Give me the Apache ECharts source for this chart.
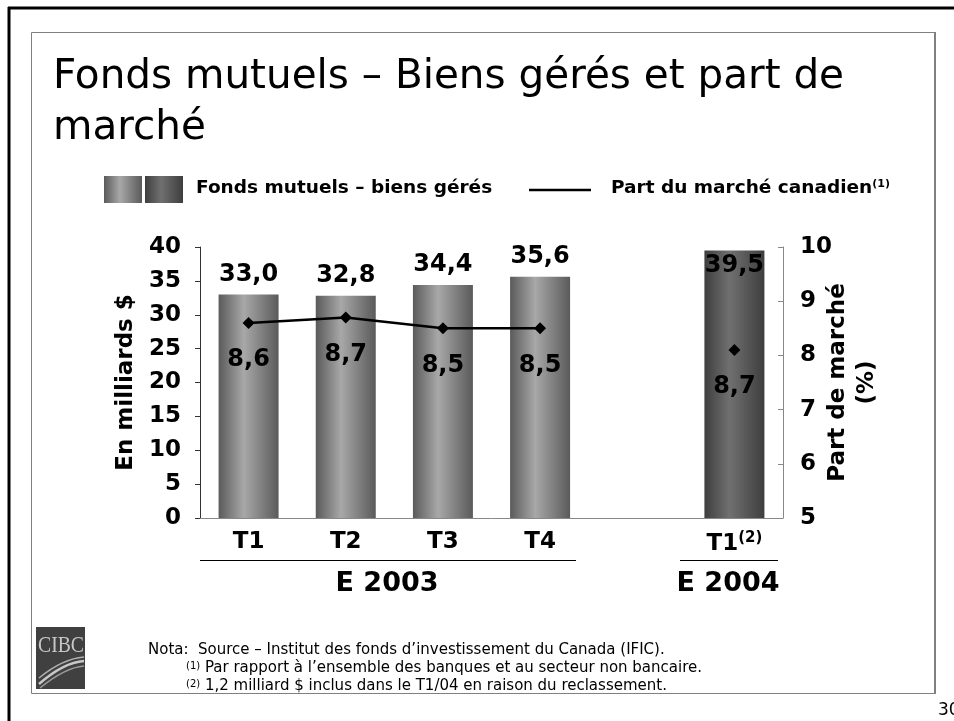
<!DOCTYPE html>
<html>
<head>
<meta charset="utf-8">
<script src="https://cdn.jsdelivr.net/npm/echarts@6/dist/echarts.min.js"></script>
<style>
  html, body { margin: 0; padding: 0; background: #fff; }
  #chart { width: 954px; height: 721px; }
</style>
</head>
<body>
<div id="chart"></div>
<script>
// données
var categories = ['T1', 'T2', 'T3', 'T4', '', 'T1'];
var assets = [33.0, 32.8, 34.4, 35.6, null, 39.5];          // milliards $
var shareMarkers = [8.6, 8.7, 8.5, 8.5, null, 8.1];          // position des losanges
var shareLabels = ['8,6', '8,7', '8,5', '8,5', '', '8,7'];  // étiquettes affichées
var years = ['E 2003', 'E 2004'];

var FONT = '"DejaVu Sans", Verdana, sans-serif';
var NOTE_FONT = '15px "DejaVu Sans", Tahoma, sans-serif';
var myChart = echarts.init(document.getElementById('chart'));

function barGrad(edge, mid) {
    return new echarts.graphic.LinearGradient(0, 0, 1, 0, [
        { offset: 0, color: edge },
        { offset: 0.42, color: mid },
        { offset: 1, color: edge }
    ]);
}
var grad2003 = function () { return barGrad('#5a5a5a', '#a8a8a8'); };
var grad2004 = function () { return barGrad('#3e3e3e', '#707070'); };

var barData = assets.map(function (v, i) {
    if (v === null) return null;
    var item = { value: v, itemStyle: { color: i === 5 ? grad2004() : grad2003() } };
    if (i === 5) item.label = { position: 'insideTop', distance: 3 };
    return item;
});

var option = {
    animation: false,
    backgroundColor: '#fff',
    grid: { left: 200, right: 171, top: 247, bottom: 203 },
    xAxis: {
        type: 'category',
        data: categories,
        axisLine: { lineStyle: { color: '#888', width: 1 } },
        axisTick: { show: false },
        axisLabel: {
            interval: 0,
            margin: 13,
            color: '#000',
            fontFamily: FONT,
            fontWeight: 'bold',
            fontSize: 23,
            formatter: function (v, i) { return i === 5 ? v + '{sup|(2)}' : v; },
            rich: {
                sup: { fontFamily: FONT, fontWeight: 'bold', fontSize: 15, verticalAlign: 'top', padding: [0, 0, 12, 0], color: '#000' }
            }
        }
    },
    yAxis: [{
        type: 'value',
        min: 0, max: 40, interval: 5,
        name: 'En milliards $',
        nameLocation: 'middle',
        nameGap: 62,
        nameRotate: 90,
        nameTextStyle: { fontFamily: FONT, fontWeight: 'bold', fontSize: 23, color: '#000' },
        axisLine: { show: true, lineStyle: { color: '#333' } },
        axisTick: { show: true, length: 5, lineStyle: { color: '#333' } },
        splitLine: { show: false },
        axisLabel: { margin: 19, color: '#000', fontFamily: FONT, fontWeight: 'bold', fontSize: 23 }
    }, {
        type: 'value',
        min: 5, max: 10, interval: 1,
        position: 'right',
        name: 'Part de marché\n(%)',
        nameLocation: 'middle',
        nameGap: 41,
        nameMoveOverlap: false,
        nameRotate: 90,
        nameTextStyle: { fontFamily: FONT, fontWeight: 'bold', fontSize: 23, color: '#000', lineHeight: 29 },
        axisLine: { show: true, lineStyle: { color: '#888' } },
        axisTick: { show: true, inside: true, length: 5, lineStyle: { color: '#888' } },
        splitLine: { show: false },
        axisLabel: { margin: 17, color: '#000', fontFamily: FONT, fontWeight: 'bold', fontSize: 23 }
    }],
    series: [{
        name: 'Fonds mutuels – biens gérés',
        type: 'bar',
        data: barData,
        barWidth: 60,
        label: {
            show: true,
            position: 'top',
            distance: 8,
            color: '#000',
            fontFamily: FONT,
            fontWeight: 'bold',
            fontSize: 24,
            formatter: function (p) { return p.value.toFixed(1).replace('.', ','); }
        }
    }, {
        name: 'Part du marché canadien',
        type: 'line',
        yAxisIndex: 1,
        data: shareMarkers,
        connectNulls: false,
        symbol: 'diamond',
        symbolSize: 12,
        lineStyle: { color: '#000', width: 2.5 },
        itemStyle: { color: '#000' },
        label: {
            show: true,
            position: 'bottom',
            distance: 19,
            color: '#000',
            fontFamily: FONT,
            fontWeight: 'bold',
            fontSize: 24,
            formatter: function (p) { return shareLabels[p.dataIndex]; }
        }
    }],
    graphic: [
        // cadre extérieur
        { type: 'line', shape: { x1: 8, y1: 8, x2: 954, y2: 8 }, style: { stroke: '#000', lineWidth: 3 } },
        { type: 'line', shape: { x1: 9, y1: 7, x2: 9, y2: 721 }, style: { stroke: '#000', lineWidth: 3 } },
        // cadre intérieur
        { type: 'rect', shape: { x: 31.5, y: 32.5, width: 903, height: 661 }, style: { fill: null, stroke: '#808080', lineWidth: 1 } },
        { type: 'line', shape: { x1: 935, y1: 32, x2: 935, y2: 694 }, style: { stroke: '#808080', lineWidth: 2 } },
        // titre
        { type: 'text', left: 53, top: 57, style: { text: 'Fonds mutuels – Biens gérés et part de', font: '40.5px ' + FONT, fill: '#000' } },
        { type: 'text', left: 53, top: 108, style: { text: 'marché', font: '40.5px ' + FONT, fill: '#000' } },
        // légende
        { type: 'rect', shape: { x: 104, y: 176, width: 38, height: 27 }, style: { fill: grad2003() } },
        { type: 'rect', shape: { x: 145, y: 176, width: 38, height: 27 }, style: { fill: grad2004() } },
        { type: 'text', left: 196, top: 179, style: { text: 'Fonds mutuels – biens gérés', font: 'bold 18.5px ' + FONT, fill: '#000' } },
        { type: 'line', shape: { x1: 529, y1: 190, x2: 591, y2: 190 }, style: { stroke: '#000', lineWidth: 2.5 } },
        { type: 'text', left: 611, top: 179, style: {
            text: 'Part du marché canadien{s|(1)}', font: 'bold 18.5px ' + FONT, fill: '#000',
            rich: { s: { fontFamily: FONT, fontWeight: 'bold', fontSize: 11, verticalAlign: 'top', padding: [0, 0, 7, 0], fill: '#000' } }
        } },
        // années
        { type: 'line', shape: { x1: 200, y1: 560.5, x2: 576, y2: 560.5 }, style: { stroke: '#000', lineWidth: 1 } },
        { type: 'line', shape: { x1: 680, y1: 560.5, x2: 778, y2: 560.5 }, style: { stroke: '#000', lineWidth: 1 } },
        { type: 'text', x: 387, y: 584, style: { text: years[0], font: 'bold 27px ' + FONT, fill: '#000', textAlign: 'center', textVerticalAlign: 'middle' } },
        { type: 'text', x: 728, y: 584, style: { text: years[1], font: 'bold 27px ' + FONT, fill: '#000', textAlign: 'center', textVerticalAlign: 'middle' } },
        // logo CIBC
        { type: 'rect', shape: { x: 36, y: 627, width: 49, height: 62 }, style: { fill: '#404040' } },
        { type: 'text', x: 61, y: 646, scaleX: 0.82, style: { text: 'CIBC', font: '24px "Liberation Serif", serif', fill: '#c8c8c8', textAlign: 'center', textVerticalAlign: 'middle' } },
        { type: 'bezierCurve', shape: { x1: 39, y1: 684, x2: 84, y2: 661, cpx1: 55, cpy1: 670, cpx2: 70, cpy2: 662 }, style: { stroke: '#c8c8c8', lineWidth: 2.5, fill: null } },
        { type: 'bezierCurve', shape: { x1: 39, y1: 678, x2: 84, y2: 657, cpx1: 55, cpy1: 665, cpx2: 70, cpy2: 658 }, style: { stroke: '#b0b0b0', lineWidth: 1.5, fill: null } },
        { type: 'bezierCurve', shape: { x1: 40, y1: 688, x2: 84, y2: 666, cpx1: 56, cpy1: 675, cpx2: 70, cpy2: 667 }, style: { stroke: '#9a9a9a', lineWidth: 1.5, fill: null } },
        // notes
        { type: 'text', left: 148, top: 643, style: { text: 'Nota:  Source – Institut des fonds d’investissement du Canada (IFIC).', font: NOTE_FONT, fill: '#000' } },
        { type: 'text', left: 186, top: 661, style: {
            text: '{s|(1)} Par rapport à l’ensemble des banques et au secteur non bancaire.', font: NOTE_FONT, fill: '#000',
            rich: { s: { fontFamily: 'DejaVu Sans', fontSize: 10, verticalAlign: 'top', padding: [0, 0, 5, 0], fill: '#000' } }
        } },
        { type: 'text', left: 186, top: 679, style: {
            text: '{s|(2)} 1,2 milliard $ inclus dans le T1/04 en raison du reclassement.', font: NOTE_FONT, fill: '#000',
            rich: { s: { fontFamily: 'DejaVu Sans', fontSize: 10, verticalAlign: 'top', padding: [0, 0, 5, 0], fill: '#000' } }
        } },
        // numéro de page
        { type: 'text', left: 938, top: 702, style: { text: '30', font: '17px ' + FONT, fill: '#000' } }
    ]
};

myChart.setOption(option);
window.addEventListener('resize', function () { myChart.resize(); });
</script>
</body>
</html>
